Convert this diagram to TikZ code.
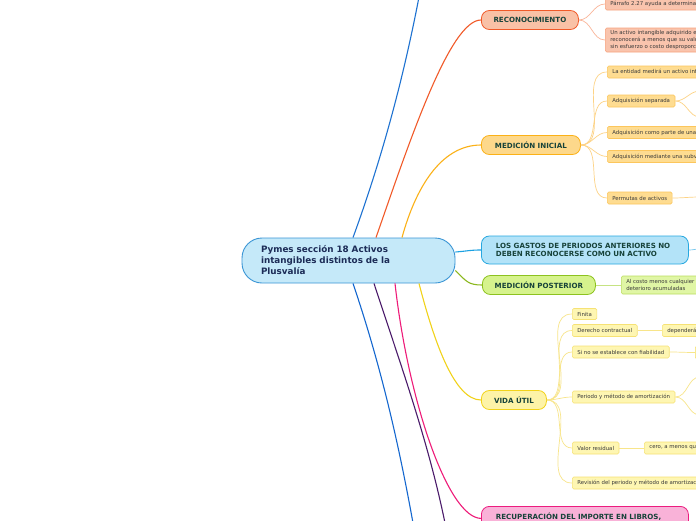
\documentclass[tikz,border=0pt]{standalone}
\usepackage{fontspec}
\setmainfont{DejaVu Sans}
\definecolor{rootfill}{HTML}{C5E9F9}
\definecolor{rootdraw}{HTML}{3A95D5}
\definecolor{roottext}{HTML}{1C2C57}
\definecolor{brtext}{HTML}{17433A}
\definecolor{leaftext}{HTML}{3A3A3A}
\definecolor{recofill}{HTML}{F9C1A6}
\definecolor{recodraw}{HTML}{F15A29}
\definecolor{rlfill}{HTML}{F9C4AD}
\definecolor{rldraw}{HTML}{F7A27D}
\definecolor{rlline}{HTML}{FAB69A}
\definecolor{mifill}{HTML}{FDD88B}
\definecolor{midraw}{HTML}{FBB117}
\definecolor{mlfill}{HTML}{FEDC91}
\definecolor{mldraw}{HTML}{FCC65C}
\definecolor{mlline}{HTML}{FDD386}
\definecolor{gafill}{HTML}{B3E3F8}
\definecolor{gadraw}{HTML}{27A8E0}
\definecolor{galine}{HTML}{1BA1E2}
\definecolor{mpfill}{HTML}{D6F38D}
\definecolor{mpdraw}{HTML}{8DC21F}
\definecolor{mpline}{HTML}{8BB81D}
\definecolor{mplfill}{HTML}{E0F6A5}
\definecolor{mpldraw}{HTML}{BBDD60}
\definecolor{mplline}{HTML}{C6E383}
\definecolor{vufill}{HTML}{FDF3A7}
\definecolor{vudraw}{HTML}{F2D31B}
\definecolor{vuline}{HTML}{F1D21A}
\definecolor{vlfill}{HTML}{FEF6B2}
\definecolor{vldraw}{HTML}{F6E275}
\definecolor{vlline}{HTML}{F8E58A}
\definecolor{rcfill}{HTML}{F9B2D8}
\definecolor{rcdraw}{HTML}{EC1C7F}
\definecolor{rcline}{HTML}{EE1B79}
\definecolor{purpline}{HTML}{4B1B6B}
\definecolor{blueone}{HTML}{1E72D1}
\definecolor{bluetwo}{HTML}{1467CF}
\begin{document}
\begin{tikzpicture}[x=1pt,y=-1pt,
  rootbox/.style={draw=rootdraw, fill=rootfill, line width=0.9pt, rounded corners=20pt,
    text width=175pt, inner xsep=19pt, inner ysep=0pt, minimum height=45pt, align=left,
    font=\fontsize{8.8}{11}\selectfont\bfseries, text=roottext},
  brbox/.style={draw, line width=0.8pt, rounded corners=8pt, minimum height=19pt,
    inner sep=0pt, font=\fontsize{7.1}{8.8}\selectfont\bfseries, text=brtext, anchor=west},
  widebox/.style={brbox, minimum height=28pt, text width=178pt, inner xsep=14.5pt, align=left},
  leaf/.style={draw, line width=0.6pt, rounded corners=1.5pt, minimum height=12pt,
    inner xsep=5pt, inner ysep=1pt, font=\fontsize{5.4}{6.9}\selectfont, text=leaftext,
    anchor=west, align=left},
  mainline/.style={line width=1.1pt},
  subline/.style={line width=0.7pt},
  fan/.style={out=0, in=180}
]
\useasboundingbox (0,0) rectangle (696,520);
\clip (0,0) rectangle (696,520);
\fill[white] (0,0) rectangle (696,520);

% root
\node[rootbox] (root) at (348.5,260.5) {Pymes sección 18 Activos\\intangibles distintos de la\\Plusvalía};

% main branches
\node[brbox, fill=recofill, draw=recodraw, minimum width=97pt] (reco) at (481,20) {RECONOCIMIENTO};
\node[brbox, fill=mifill, draw=midraw, minimum width=99pt] (mi) at (481,145) {MEDICIÓN INICIAL};
\node[widebox, fill=gafill, draw=gadraw] (gastos) at (481,250) {LOS GASTOS DE PERIODOS ANTERIORES NO\\DEBEN RECONOCERSE COMO UN ACTIVO};
\node[brbox, fill=mpfill, draw=mpdraw, minimum width=113pt] (mp) at (482,285) {MEDICIÓN POSTERIOR};
\node[brbox, fill=vufill, draw=vudraw, minimum width=65pt] (vu) at (481,400) {VIDA ÚTIL};
\node[widebox, fill=rcfill, draw=rcdraw, anchor=north west] (recu) at (481,506) {RECUPERACIÓN DEL IMPORTE EN LIBROS,\\PÉRDIDAS POR DETERIORO};

% off-canvas ends of main branches
\coordinate (topblue) at (419,-3);
\coordinate (botblue) at (413,523);
\coordinate (botpurp) at (445,523);

% reconocimiento leaves
\node[leaf, fill=rlfill, draw=rldraw] (r1) at (605,4) {Párrafo 2.27 ayuda a determinar};
\node[leaf, fill=rlfill, draw=rldraw, minimum height=24pt] (r2) at (605,40) {Un activo intangible adquirido en\\reconocerá a menos que su valor\\sin esfuerzo o costo desproporcionado};

% medicion inicial leaves
\node[leaf, fill=mlfill, draw=mldraw] (m1) at (607,72) {La entidad medirá un activo intangible};
\node[leaf, fill=mlfill, draw=mldraw] (m2) at (607,101) {Adquisición separada};
\node[leaf, fill=mlfill, draw=mldraw] (m3) at (607,132.5) {Adquisición como parte de una combinación};
\node[leaf, fill=mlfill, draw=mldraw] (m4) at (607,156.5) {Adquisición mediante una subvención};
\node[leaf, fill=mlfill, draw=mldraw] (m5) at (607,198) {Permutas de activos};
\coordinate (m2a) at (700,91);
\coordinate (m2b) at (700,117);
\coordinate (m5a) at (700,197);

% gastos
\coordinate (gar) at (700,249);

% medicion posterior leaf
\node[leaf, fill=mplfill, draw=mpldraw, minimum height=18pt] (mp1) at (621,285) {Al costo menos cualquier\\deterioro acumuladas};

% vida util leaves
\node[leaf, fill=vlfill, draw=vldraw, minimum height=11pt] (v1) at (572,314) {Finita};
\node[leaf, fill=vlfill, draw=vldraw] (v2) at (572,330.5) {Derecho contractual};
\node[leaf, fill=vlfill, draw=vldraw] (v2a) at (662,330.5) {dependerá};
\node[leaf, fill=vlfill, draw=vldraw] (v3) at (572,352) {Si no se establece con fiabilidad};
\node[leaf, fill=vlfill, draw=vldraw, minimum width=30pt, minimum height=13pt] (v3a) at (695,352.5) {};
\node[leaf, fill=vlfill, draw=vldraw] (v4) at (572,397) {Periodo y método de amortización};
\node[leaf, fill=vlfill, draw=vldraw] (v5) at (572,448) {Valor residual};
\node[leaf, fill=vlfill, draw=vldraw] (v5a) at (644,448) {cero, a menos que};
\node[leaf, fill=vlfill, draw=vldraw] (v6) at (572,483) {Revisión del periodo y método de amortización};
\coordinate (v4a) at (700,377);
\coordinate (v4b) at (700,415);

% ---- main connectors
\draw[mainline, blueone] ([xshift=4.5pt]root.north) .. controls (382,158) and (403,80) .. (topblue);
\draw[mainline, recodraw] ([xshift=27.5pt]root.north) .. controls (410,140) and (450,20) .. (reco.west);
\draw[mainline, midraw] ([xshift=53.5pt]root.north) .. controls (415,190) and (440,145) .. (mi.west);
\draw[mainline, galine] ([yshift=8.5pt]root.east) .. controls (468,251) and (470,250) .. (gastos.west);
\draw[mainline, mpline] ([yshift=-10pt]root.east) .. controls (466,281) and (468,285) .. (mp.west);
\draw[mainline, vuline] ([xshift=70.5pt]root.south) .. controls (435,345) and (455,400) .. (vu.west);
\draw[mainline, rcline] ([xshift=46.5pt]root.south) .. controls (408,400) and (448,518) .. ([yshift=2pt]recu.west);
\draw[mainline, purpline] ([xshift=25.5pt]root.south) .. controls (400,363) and (428,440) .. (botpurp);
\draw[mainline, bluetwo] ([xshift=4.5pt]root.south) .. controls (380,363) and (398,440) .. (botblue);

% ---- sub connectors
\draw[subline, rlline] (reco.east) to[fan] (r1.west);
\draw[subline, rlline] (reco.east) to[fan] (r2.west);
\foreach \n in {m1,m2,m3,m4,m5} \draw[subline, mlline] (mi.east) to[fan] (\n.west);
\draw[subline, mlline] (m2.east) to[fan] (m2a);
\draw[subline, mlline] (m2.east) to[fan] (m2b);
\draw[subline, mlline] (m5.east) to[fan] (m5a);
\draw[subline, galine!60] (gastos.east) to[fan] (gar);
\draw[subline, mplline] (mp.east) -- (mp1.west);
\foreach \n in {v1,v2,v3,v4,v5,v6} \draw[subline, vlline] (vu.east) to[fan] (\n.west);
\draw[subline, vlline] (v2.east) -- (v2a.west);
\draw[subline, vlline] (v3.east) to[fan] (v3a.west);
\draw[subline, vlline] (v4.east) to[fan] (v4a);
\draw[subline, vlline] (v4.east) to[fan] (v4b);
\draw[subline, vlline] (v5.east) -- (v5a.west);
\end{tikzpicture}
\end{document}
